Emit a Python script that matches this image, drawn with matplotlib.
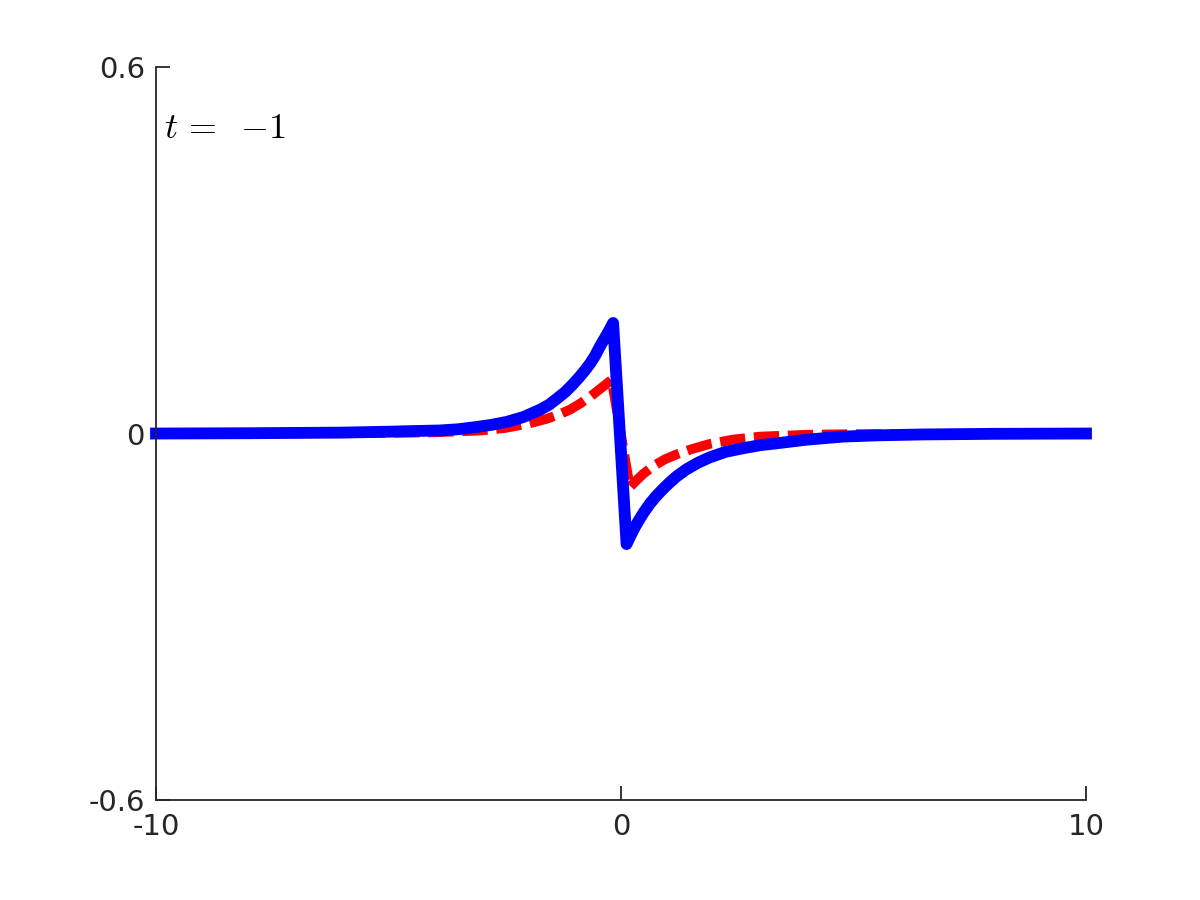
import matplotlib
matplotlib.use("Agg")
import matplotlib.pyplot as plt

plt.rcParams["mathtext.fontset"] = "cm"

# ── Data ────────────────────────────────────────────────
x_blue = [-10, -8, -6, -5, -4.5, -3.9, -3.5, -3.18, -2.8, -2.46, -2.1, -1.74,
          -1.55, -1.38, -1.2, -1.03, -0.9, -0.78, -0.67, -0.56, -0.45, -0.35,
          -0.26, -0.17, 0.12, 0.2, 0.3, 0.4, 0.5, 0.62, 0.75, 0.9, 1.05, 1.2,
          1.4, 1.65, 1.91, 2.25, 2.63, 3.0, 3.35, 4.0, 4.78, 5.5, 6.5, 8, 10]
y_blue = [0, 0.0005, 0.0015, 0.003, 0.004, 0.005, 0.007, 0.010, 0.014, 0.019,
          0.027, 0.039, 0.047, 0.057, 0.068, 0.081, 0.092, 0.103, 0.114,
          0.127, 0.143, 0.156, 0.168, 0.181, -0.181, -0.168, -0.153, -0.140,
          -0.128, -0.115, -0.103, -0.091, -0.080, -0.070, -0.059, -0.048,
          -0.039, -0.030, -0.024, -0.019, -0.016, -0.010, -0.005, -0.003,
          -0.0015, -0.0005, 0]

x_red = [-10, -6, -5, -4, -3, -2.5, -2.0, -1.6, -1.31, -1.1, -0.88, -0.65,
         -0.45, -0.3, -0.2, 0.19, 0.3, 0.48, 0.7, 0.95, 1.2, 1.5, 1.91, 2.4,
         3.0, 4.0, 5.0, 10]
y_red = [0, 0.0005, 0.001, 0.002, 0.005, 0.009, 0.016, 0.024, 0.032, 0.039,
         0.049, 0.061, 0.073, 0.082, 0.088, -0.088, -0.079, -0.066, -0.053,
         -0.042, -0.034, -0.026, -0.017, -0.010, -0.005, -0.002, -0.001, 0]

x_ticks = [-10, 0, 10]
y_ticks = [-0.6, 0, 0.6]
x_labels = ["-10", "0", "10"]
y_labels = ["-0.6", "0", "0.6"]

# ── Figure ──────────────────────────────────────────────
fig = plt.figure(figsize=(12, 9), dpi=100)
ax = fig.add_axes([0.13, 0.1111, 0.775, 0.8144])

ax.plot(x_red, y_red, color="red", lw=7, dashes=(2.6, 0.9),
        dash_capstyle="butt", dash_joinstyle="round", clip_on=False)
ax.plot(x_blue, y_blue, color="blue", lw=8.5, solid_capstyle="projecting",
        solid_joinstyle="round", clip_on=False)

ax.set_xlim(-10, 10)
ax.set_ylim(-0.6, 0.6)
ax.set_xticks(x_ticks)
ax.set_xticklabels(x_labels)
ax.set_yticks(y_ticks)
ax.set_yticklabels(y_labels)

axis_color = "#262626"
for side in ["top", "right"]:
    ax.spines[side].set_visible(False)
for side in ["left", "bottom"]:
    ax.spines[side].set_color(axis_color)
    ax.spines[side].set_linewidth(1.3)
ax.tick_params(direction="in", length=10, width=1.3, colors=axis_color,
               labelsize=21)
ax.tick_params(axis="y", pad=8)
ax.tick_params(axis="x", pad=9)

ax.text(0.009, 0.903, r"$t\, =\;\;{-1}$", transform=ax.transAxes,
        fontsize=26, ha="left", va="baseline", color="black")

fig.savefig("out.png", dpi=100)
